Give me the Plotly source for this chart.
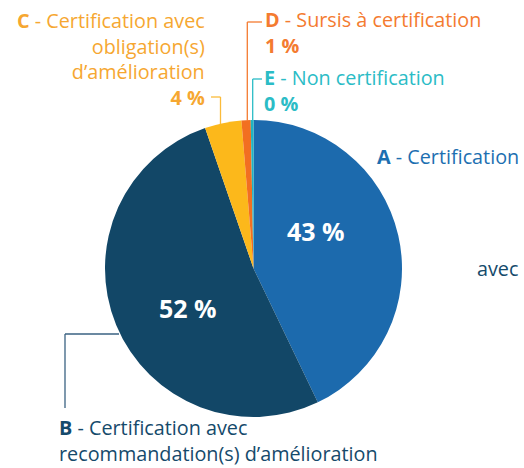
import plotly.graph_objects as go

W, H = 524, 468

# ---- data ----
codes = ["A", "B", "C", "D", "E"]
values = [43, 52, 4, 1, 0.3]
pct_labels = ["43 %", "52 %", "4 %", "1 %", "0 %"]
slice_colors = ["#1c6aad", "#124767", "#fcb81b", "#f26f21", "#1fb5c1"]
text_colors = ["#1d6fb1", "#154a6b", "#f6a731", "#f47b30", "#2bbcc6"]
label_lines = {
    "A": ["Certification"],
    "B": ["Certification avec", "recommandation(s) d’amélioration"],
    "C": ["Certification avec", "obligation(s)", "d’amélioration"],
    "D": ["Sursis à certification"],
    "E": ["Non certification"],
}

FONT = "Open Sans"
FS = 19.8

def px(x):
    return x / W

def py(y):
    return 1 - y / H

fig = go.Figure(go.Pie(
    values=values,
    labels=codes,
    sort=False,
    direction="clockwise",
    rotation=0,
    marker=dict(colors=slice_colors, line=dict(width=0)),
    textinfo="none",
    hoverinfo="skip",
    showlegend=False,
    domain=dict(x=[px(105), px(402)], y=[py(417), py(120)]),
))

ann = []

def add_text(x, y, text, color, size=FS, xanchor="left", bold=False, yanchor="middle", align=None):
    if bold:
        text = "<b>" + text + "</b>"
    ann.append(dict(x=px(x), y=py(y), xref="paper", yref="paper", text=text,
                    showarrow=False, xanchor=xanchor, yanchor=yanchor, borderpad=0,
                    align=align or xanchor,
                    font=dict(family=FONT, size=size, color=color)))

# A
add_text(376, 157, "<b>A</b> - " + label_lines["A"][0], text_colors[0])
add_text(476, 268, "avec", text_colors[1])
# B
add_text(58, 468, "<b>B</b> - " + "<br>".join(label_lines["B"]), text_colors[1],
         yanchor="bottom")
# C
add_text(206, 58.5, "<b>C</b> - " + "<br>".join(label_lines["C"]) + "<br><b>" + pct_labels[2] + "</b>",
         text_colors[2], xanchor="right")
# D
add_text(264, 32.5, "<b>D</b> - " + label_lines["D"][0] + "<br><b>" + pct_labels[3] + "</b>",
         text_colors[3])
# E
add_text(263, 91, "<b>E</b> - " + label_lines["E"][0] + "<br><b>" + pct_labels[4] + "</b>",
         text_colors[4])
# inside percentages
add_text(316, 231, pct_labels[0], "white", size=25, xanchor="center", bold=True)
add_text(188, 308, pct_labels[1], "white", size=25, xanchor="center", bold=True)

shapes = []

def seg(x0, y0, x1, y1, color):
    shapes.append(dict(type="line", xref="paper", yref="paper",
                       x0=px(x0), y0=py(y0), x1=px(x1), y1=py(y1),
                       line=dict(color=color, width=1.3)))

# C leader
seg(211, 97, 220.5, 97, "#fbbb3a")
seg(220.5, 97, 220.5, 124, "#fbbb3a")
# D leader
seg(247.3, 22, 262, 22, "#f47b30")
seg(247.3, 22, 247.3, 121, "#f47b30")
# E leader
seg(252.7, 79, 262, 79, "#2bbcc6")
seg(252.7, 79, 252.7, 121, "#2bbcc6")
# B leader
seg(65, 334, 119, 334, "#3a6282")
seg(65, 334, 65, 408, "#3a6282")

fig.update_layout(width=W, height=H, autosize=False,
                  margin=dict(l=0, r=0, t=0, b=0),
                  paper_bgcolor="white", plot_bgcolor="white",
                  annotations=ann, shapes=shapes)

fig.write_html("out.html", config={"displayModeBar": False},
               post_script="document.body.style.margin='0';document.body.style.overflow='hidden';")
